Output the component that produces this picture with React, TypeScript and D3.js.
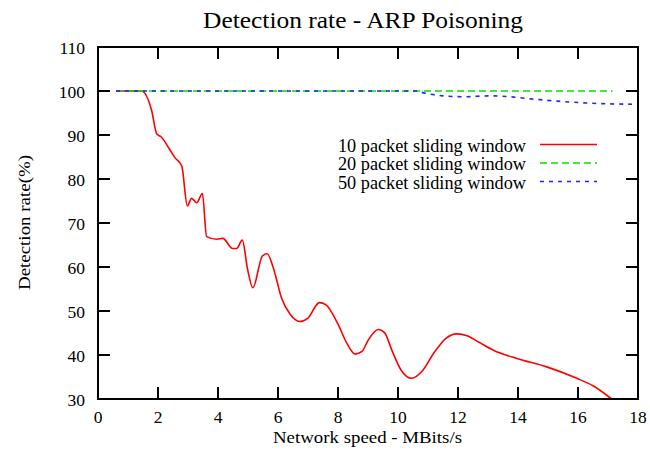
import React from 'react';
import * as d3 from 'd3';

const xTicks = [0, 2, 4, 6, 8, 10, 12, 14, 16, 18];
const yTicks = [30, 40, 50, 60, 70, 80, 90, 100, 110];

const win10X = [0.6, 1.45, 1.79, 1.96, 2.1, 2.4, 2.57, 2.79, 2.98, 3.12, 3.29, 3.48, 3.62, 3.96, 4.16, 4.49, 4.62, 4.81, 4.98, 5.16, 5.48, 5.64, 5.84, 6.12, 6.4, 6.72, 7.0, 7.38, 7.6, 8.0, 8.3, 8.57, 8.8, 9.0, 9.34, 9.55, 9.8, 10.1, 10.46, 10.8, 11.2, 11.6, 11.96, 12.3, 12.7, 13.18, 13.96, 14.96, 15.96, 16.5, 17.12];
const win10Y = [100, 100, 95.5, 90.2, 89.6, 86.6, 84.8, 83, 73.9, 75.6, 74.6, 76.7, 66.9, 66.3, 66.5, 64.2, 64.2, 66.1, 59.7, 55.3, 62.5, 63, 59.9, 52.9, 49.3, 47.6, 48.4, 51.9, 51.4, 47, 42.6, 40.2, 40.8, 43.3, 45.8, 45.1, 41, 36.6, 34.7, 36.3, 40.5, 43.8, 44.8, 44.4, 42.9, 41.1, 39.2, 37.3, 34.7, 33, 30];

const win20X = [0.6, 17.15];
const win20Y = [100, 100];

const win50X = [0.6, 10.57, 10.9, 11.5, 12.2, 13.07, 13.7, 14.6, 15.5, 16.5, 17.8];
const win50Y = [100, 100, 99.5, 98.9, 98.7, 98.9, 98.7, 98.1, 97.6, 97.2, 97.0];

const seriesNames = ['10 packet sliding window', '20 packet sliding window', '50 packet sliding window'];
const seriesColors = ['#ff0000', '#00e000', '#2222ff'];
const seriesDash = ['none', '7,4', '4,5'];

export default function App() {
  const width = 650;
  const height = 455;
  const left = 98, right = 638, top = 47, bottom = 399;
  const font = '"Liberation Serif", "Times New Roman", serif';

  const x = d3.scaleLinear().domain([0, 18]).range([left, right]);
  const y = d3.scaleLinear().domain([30, 110]).range([bottom, top]);

  const line = d3.line<[number, number]>()
    .x(d => x(d[0]))
    .y(d => y(d[1]))
    .curve(d3.curveMonotoneX);

  const series = [
    d3.zip(win10X, win10Y) as [number, number][],
    d3.zip(win20X, win20Y) as [number, number][],
    d3.zip(win50X, win50Y) as [number, number][]
  ];

  const tickLen = 12;

  return (
    <div style={{ position: 'absolute', left: 0, top: 0 }}>
      <svg width={width} height={height} style={{ display: 'block', background: '#fff' }}>
        <text x={203} y={28} fontFamily={font} fontSize={22.5} fill="#000"
          textLength={320} lengthAdjust="spacingAndGlyphs">
          Detection rate - ARP Poisoning
        </text>

        {series.map((s, i) => (
          <path key={i} d={line(s) || ''} fill="none" stroke={seriesColors[i]} strokeWidth={1.6}
            strokeDasharray={seriesDash[i]} />
        ))}

        {/* ticks, mirrored on top and right */}
        {xTicks.map(t => (
          <g key={'x' + t}>
            <line x1={x(t)} x2={x(t)} y1={bottom} y2={bottom - tickLen} stroke="#000" strokeWidth={2} />
            <line x1={x(t)} x2={x(t)} y1={top} y2={top + tickLen} stroke="#000" strokeWidth={2} />
            <text x={x(t)} y={423} textAnchor="middle" fontFamily={font} fontSize={17.5} fill="#000">{t}</text>
          </g>
        ))}
        {yTicks.map(t => (
          <g key={'y' + t}>
            <line x1={left} x2={left + tickLen} y1={y(t)} y2={y(t)} stroke="#000" strokeWidth={2} />
            <line x1={right} x2={right - tickLen} y1={y(t)} y2={y(t)} stroke="#000" strokeWidth={2} />
            <text x={85} y={y(t) + 6.5} textAnchor="end" fontFamily={font} fontSize={17.5} fill="#000">{t}</text>
          </g>
        ))}

        <rect x={left} y={top} width={right - left} height={bottom - top} fill="none" stroke="#000" strokeWidth={2} />

        {seriesNames.map((name, i) => (
          <g key={name}>
            <text x={338} y={151.5 + i * 18.5} fontFamily={font} fontSize={18} fill="#000"
              textLength={188} lengthAdjust="spacingAndGlyphs">{name}</text>
            <line x1={540} x2={597} y1={144.5 + i * 18.5} y2={144.5 + i * 18.5} stroke={seriesColors[i]} strokeWidth={1.6}
              strokeDasharray={seriesDash[i]} />
          </g>
        ))}

        <text x={273} y={443} fontFamily={font} fontSize={17.5} fill="#000"
          textLength={189} lengthAdjust="spacingAndGlyphs">
          Network speed - MBits/s
        </text>
        <text transform="translate(30,290) rotate(-90)" fontFamily={font} fontSize={17.5} fill="#000"
          textLength={135} lengthAdjust="spacingAndGlyphs">
          Detection rate(%)
        </text>
      </svg>
    </div>
  );
}
